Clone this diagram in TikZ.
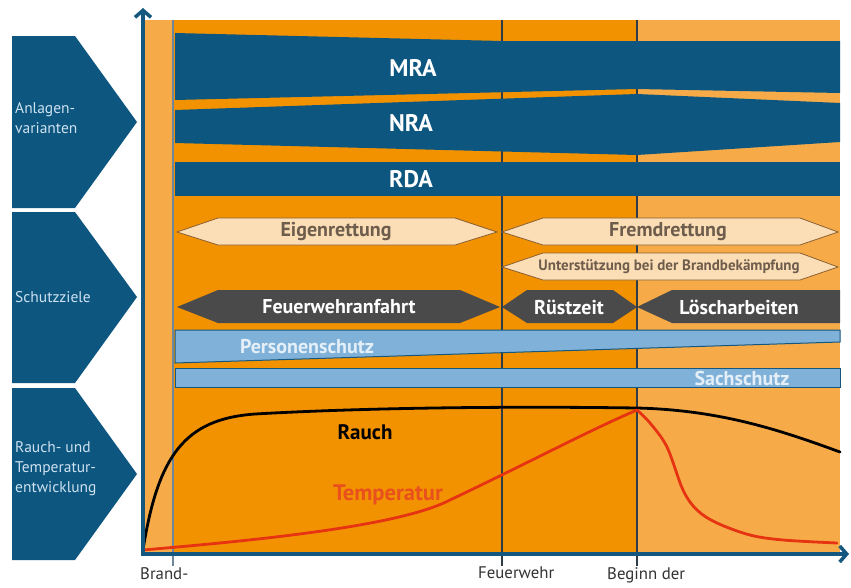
\documentclass[tikz,border=0pt]{standalone}
\usepackage{fontspec}
\setmainfont{PT Sans}
\usetikzlibrary{arrows.meta}
\definecolor{dblue}{RGB}{12,86,128}
\definecolor{axisblue}{RGB}{20,88,128}
\definecolor{orangeM}{RGB}{243,146,0}
\definecolor{orangeL}{RGB}{246,171,72}
\definecolor{peach}{RGB}{251,222,182}
\definecolor{peachline}{RGB}{140,95,50}
\definecolor{peachtxt}{RGB}{110,92,76}
\definecolor{dgray}{RGB}{74,74,74}
\definecolor{lblue}{RGB}{127,177,217}
\definecolor{lbluetxt}{RGB}{228,239,248}
\definecolor{chevtxtc}{RGB}{206,226,240}
\definecolor{tempred}{RGB}{230,51,18}
\definecolor{templab}{RGB}{232,80,30}
\definecolor{gridc}{RGB}{45,60,70}
\definecolor{gridl}{RGB}{110,135,155}
\begin{document}
\begin{tikzpicture}[x=1pt,y=-1pt,
  chev/.style={fill=dblue,draw=none},
  chevtxt/.style={text=chevtxtc,anchor=west,align=left,inner sep=0pt,font=\fontsize{15.5}{20}\selectfont},
  band/.style={fill=dblue,draw=none},
  bandtxt/.style={text=white,font=\bfseries\fontsize{24}{26}\selectfont,inner sep=0pt},
  peachhex/.style={fill=peach,draw=peachline,line width=0.8pt},
  peachlab/.style={text=peachtxt,font=\bfseries\fontsize{20}{22}\selectfont,inner sep=0pt},
  peachsmall/.style={text=peachtxt,font=\bfseries\fontsize{15}{17}\selectfont,inner sep=0pt},
  grayhex/.style={fill=dgray,draw=none},
  graylab/.style={text=white,font=\bfseries\fontsize{20}{22}\selectfont,inner sep=0pt},
  bluebar/.style={fill=lblue,draw=axisblue,line width=1pt},
  bluelab/.style={text=lbluetxt,font=\bfseries\fontsize{20}{22}\selectfont,inner sep=0pt},
  gridline/.style={draw=gridc,line width=1.3pt},
  axisline/.style={draw=axisblue,line width=3.5pt},
  timelab/.style={anchor=north west,inner sep=0pt,text=black!80,font=\fontsize{16.8}{18}\selectfont}
]
\useasboundingbox (0,0) rectangle (851,587);
\fill[white] (0,0) rectangle (851,587);

% left chevrons
\fill[chev] (12,36) -- (75,36) -- (137,122) -- (75,208) -- (12,208) -- cycle;
\fill[chev] (12,212) -- (75,212) -- (137,297) -- (75,383) -- (12,383) -- cycle;
\fill[chev] (12,388) -- (75,388) -- (137,474) -- (75,560) -- (12,560) -- cycle;
\node[chevtxt] (c1) at (15,118) {Anlagen-\\varianten};
\node[chevtxt] (c2) at (15,297) {Schutzziele};
\node[chevtxt] (c3) at (15,469) {Rauch- und\\Temperatur-\\entwicklung};

% background
\fill[orangeL] (145,20) rectangle (173,553);
\fill[orangeM] (173,20) rectangle (637,553);
\fill[orangeL] (637,20) rectangle (840,553);

% grid lines
\coordinate (g1t) at (173,20); \coordinate (g1b) at (173,566);
\coordinate (g2t) at (502,20); \coordinate (g2b) at (502,566);
\coordinate (g3t) at (637,20); \coordinate (g3b) at (637,566);
\draw[gridline,draw=gridl] (g1t) -- (g1b);
\draw[gridline] (g2t) -- (g2b);
\draw[gridline] (g3t) -- (g3b);

% Anlagenvarianten bands
\fill[band] (175,33) -- (502,41) -- (840,41) -- (840,93) -- (637,89) -- (175,100) -- cycle;
\fill[band] (175,110) -- (637,94) -- (840,103) -- (840,142) -- (637,155) -- (175,143) -- cycle;
\fill[band] (175,162) rectangle (840,196);
\node[bandtxt] (mra) at (413,68) {MRA};
\node[bandtxt] (nra) at (411,123) {NRA};
\node[bandtxt] (rda) at (411,179) {RDA};

% Schutzziele
\draw[peachhex] (177,232) -- (218,218) -- (455,218) -- (497,232) -- (455,245) -- (218,245) -- cycle;
\draw[peachhex] (502,232) -- (543,218) -- (800,218) -- (838,232) -- (800,245) -- (543,245) -- cycle;
\draw[peachhex] (502,267) -- (543,253) -- (800,253) -- (838,267) -- (800,280) -- (543,280) -- cycle;
\node[peachlab] (eigen) at (336,232) {Eigenrettung};
\node[peachlab] (fremd) at (668,232) {Fremdrettung};
\node[peachsmall] (unter) at (669,267) {Unterstützung bei der Brandbekämpfung};

\fill[grayhex] (177,307) -- (218,290) -- (460,290) -- (500,307) -- (460,323) -- (218,323) -- cycle;
\fill[grayhex] (502,307) -- (527,290) -- (613,290) -- (637,307) -- (613,323) -- (527,323) -- cycle;
\fill[grayhex] (637,307) -- (672,290) -- (840,290) -- (840,323) -- (672,323) -- cycle;
\node[graylab] (anfahrt) at (339,307) {Feuerwehranfahrt};
\node[graylab] (ruest) at (569,307) {Rüstzeit};
\node[graylab] (loesch) at (739,307) {Löscharbeiten};

\draw[bluebar] (175,330) -- (840,330) -- (840,342) -- (175,363) -- cycle;
\draw[bluebar] (175,368) rectangle (840,387);
\node[bluelab] (person) at (307,347) {Personenschutz};
\node[bluelab] (sach) at (742,378) {Sachschutz};

% curves
\draw[black,line width=2.8pt,line cap=round]
  (143,550) .. controls (158,455) and (185,419) .. (255,414)
  .. controls (360,408) and (500,406) .. (637,408)
  .. controls (720,410) and (780,430) .. (840,452);
\draw[tempred,line width=2.8pt,line cap=round]
  (143,550) .. controls (260,540) and (400,526) .. (450,500)
  .. controls (530,462) and (590,430) .. (637,410);
\draw[tempred,line width=2.8pt,line cap=round]
  plot[smooth,tension=0.55] coordinates {(637,410) (650,423) (667,447) (683,490) (697,510) (717,523) (750,535) (783,540) (837,543)};
\node[inner sep=0pt,font=\bfseries\fontsize{21}{24}\selectfont] (rauch) at (365,432) {Rauch};
\node[inner sep=0pt,text=templab,font=\bfseries\fontsize{22.5}{24}\selectfont] (temp) at (388,495) {Temperatur};

% axes
\coordinate (O) at (143,554);
\coordinate (ytop) at (143,8);
\coordinate (xend) at (849,554);
\coordinate (xstart) at (141,554);
\draw[axisline,-{Straight Barb[length=7pt,width=16pt]}] (O) -- (ytop);
\draw[axisline,-{Straight Barb[length=7pt,width=16pt]}] (xstart) -- (xend);

% time labels
\node[timelab] (t1) at (140,567) {Brand-};
\node[timelab] (t2) at (478,567) {Feuerwehr};
\node[timelab] (t3) at (607,567) {Beginn der};
\end{tikzpicture}
\end{document}
